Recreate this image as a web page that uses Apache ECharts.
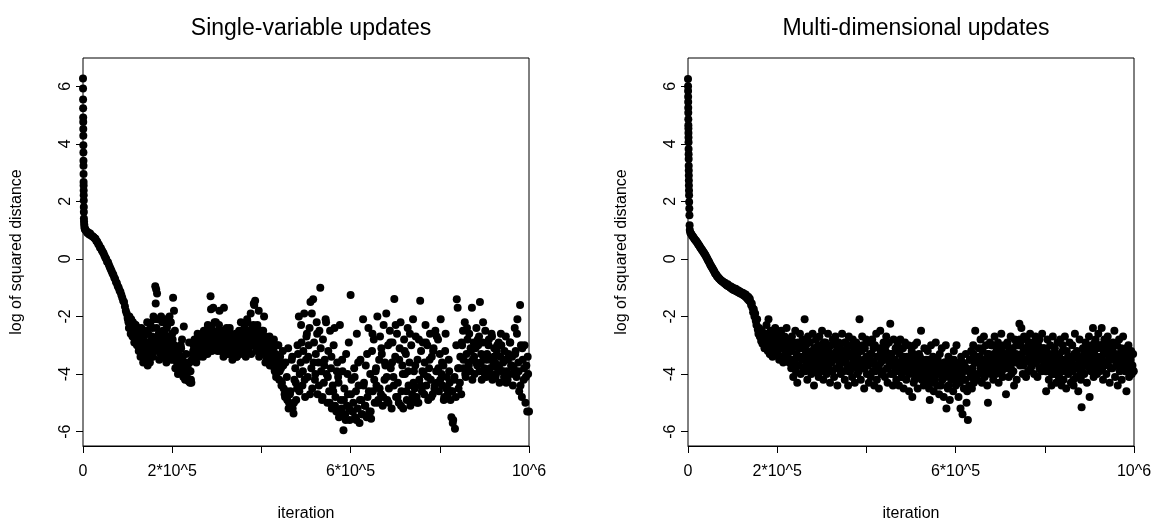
<!DOCTYPE html>
<html><head><meta charset="utf-8">
<script src="https://cdn.jsdelivr.net/npm/echarts@6/dist/echarts.min.js"></script>
<style>html,body{margin:0;padding:0;background:#fff}#c{width:1163px;height:527px}</style>
</head><body><div id="c"></div>
<script>
// ---------- text / ticks ----------
const panelTitles = ['Single-variable updates', 'Multi-dimensional updates'];
const xAxisTitle = 'iteration';
const yAxisTitle = 'log of squared distance';
const xTickValues = [0, 200000, 400000, 600000, 800000, 1000000];
const xTickLabels = ['0', '2*10^5', '', '6*10^5', '', '10^6'];
const yTickValues = [-6, -4, -2, 0, 2, 4, 6];

// ---------- single-variable updates ----------
const singleHeadIter = [0, 100, 200, 300, 400, 500, 600, 700, 800, 900, 1000, 1100, 1200, 1300, 1400, 1500, 1600, 1700, 1800, 1900, 2000, 2300, 2700, 3200, 3800, 4500];
const singleHeadLog = [6.27, 5.92, 5.54, 5.23, 4.91, 4.76, 4.51, 4.28, 3.95, 3.7, 3.41, 3.24, 2.95, 2.67, 2.55, 2.38, 2.21, 2.03, 1.8, 1.63, 1.4, 1.3, 1.2, 1.12, 1.06, 1.02];
const singleTailStart = 6000;
const singleTailStep = 2000;
const singleTailLog = [
 1.0,0.95,0.9,0.92,0.85,0.88,0.82,0.8,0.78,0.75,
 0.72,0.7,0.62,0.6,0.52,0.48,0.4,0.38,0.3,0.25,
 0.2,0.12,0.05,0.0,-0.1,-0.12,-0.2,-0.28,-0.35,-0.42,
 -0.5,-0.55,-0.65,-0.7,-0.8,-0.85,-0.95,-1.0,-1.1,-1.15,
 -1.25,-1.35,-1.45,-1.5,-1.65,-1.8,-1.9,-2.05,-2.2,-2.0,
 -2.3,-2.1,-2.4,-2.2,-2.6,-2.5,-2.3,-2.8,-2.6,-2.4,
 -2.9,-3.1,-2.7,-3.3,-2.5,-2.9,-3.2,-3.5,-3.0,-2.2,
 -2.6,-3.4,-3.6,-3.2,-2.8,-2.4,-2.0,-3.0,-0.95,-1.05,
 -1.2,-2.1,-2.6,-3.0,-3.3,-2.7,-2.2,-2.5,-2.9,-3.4,
 -2.1,-2.4,-3.1,-2.8,-2.0,-3.3,-3.5,-2.6,-1.35,-1.8,
 -2.5,-3.2,-3.5,-3.7,-3.4,-3.9,-3.6,-3.1,-2.8,-3.8,
 -2.35,-4.0,-4.1,-3.6,-4.2,-3.9,-2.9,-4.3,-4.2,-3.5,
 -3.3,-3.0,-2.8,-3.2,-3.6,-3.1,-2.7,-3.4,-2.9,-3.0,
 -3.3,-2.6,-2.9,-3.1,-2.5,-3.2,-2.7,-2.3,-3.0,-2.8,
 -1.3,-2.4,-2.9,-1.7,-2.6,-3.0,-2.2,-2.8,-3.2,-2.5,
 -1.8,-2.7,-3.1,-2.5,-2.9,-1.7,-2.6,-3.0,-2.4,-3.3,
 -2.8,-2.5,-3.1,-2.9,-3.3,-2.7,-3.0,-3.2,-2.6,-3.4,
 -3.1,-2.8,-2.5,-3.0,-2.2,-2.7,-3.2,-2.9,-2.4,-3.3,
 -2.6,-2.1,-2.9,-3.1,-2.5,-1.9,-2.8,-3.0,-2.3,-1.6,
 -1.45,-2.4,-2.7,-3.1,-1.8,-2.9,-3.3,-2.6,-3.0,-2.5,
 -2.0,-2.8,-3.2,-3.5,-2.9,-3.4,-2.7,-3.0,-3.6,-3.2,
 -3.5,-2.8,-3.9,-3.3,-4.0,-3.6,-3.0,-4.2,-3.4,-3.8,
 -4.3,-3.2,-4.5,-4.7,-3.6,-4.6,-4.9,-3.1,-5.0,-4.7,
 -5.1,-3.5,-5.2,-5.37,-4.2,-3.8,-4.9,-4.5,-3.3,-2.0,
 -4.0,-3.6,-2.9,-4.4,-3.2,-1.9,-4.8,-3.5,-2.6,-4.1,
 -3.0,-2.4,-1.5,-3.8,-4.5,-1.4,-2.9,-4.2,-3.3,-2.2,
 -4.7,-3.6,-2.5,-1.0,-3.9,-4.9,-2.8,-4.3,-3.5,-2.1,
 -4.0,-5.0,-3.2,-4.6,-2.5,-3.8,-5.2,-4.4,-3.0,-2.4,
 -4.8,-5.3,-3.6,-4.1,-5.5,-2.3,-4.9,-5.2,-3.9,-5.95,
 -4.5,-5.4,-3.3,-5.1,-4.7,-2.9,-5.6,-1.25,-4.2,-5.3,
 -5.0,-3.8,-5.5,-4.6,-2.6,-5.2,-4.4,-5.7,-3.5,-4.9,
 -5.4,-2.1,-4.3,-5.1,-3.7,-5.5,-4.8,-2.4,-5.3,-4.0,
 -5.55,-3.2,-4.6,-2.8,-5.0,-3.9,-4.4,-2.0,-4.9,-3.5,
 -2.7,-4.7,-3.3,-5.1,-2.3,-4.2,-3.7,-1.9,-4.9,-3.0,
 -4.5,-2.5,-3.8,-5.2,-2.9,-4.1,-1.39,-3.4,-4.8,-2.6,
 -4.3,-5.0,-3.1,-2.2,-4.6,-3.7,-5.2,-2.8,-4.0,-3.3,
 -4.9,-2.4,-4.4,-3.6,-5.1,-3.0,-4.7,-2.1,-3.9,-4.5,
 -2.7,-4.8,-3.5,-5.0,-4.2,-1.45,-3.2,-4.6,-2.9,-4.0,
 -3.6,-2.3,-4.4,-3.0,-4.9,-3.8,-2.6,-4.2,-3.4,-4.7,
 -3.1,-4.5,-2.5,-3.9,-4.3,-2.8,-4.6,-3.3,-2.1,-4.0,
 -4.4,-3.7,-4.8,-3.2,-4.5,-4.1,-4.7,-3.5,-4.3,-4.9,
 -5.5,-4.6,-5.6,-4.2,-5.9,-4.8,-1.4,-1.7,-4.5,-3.8,
 -3.4,-4.7,-3.0,-2.5,-3.8,-2.2,-4.1,-3.3,-2.8,-3.6,
 -2.6,-3.9,-3.2,-1.7,-3.5,-2.9,-4.0,-3.1,-2.4,-3.7,
 -3.0,-2.7,-1.5,-3.6,-4.2,-2.9,-3.4,-3.8,-2.5,-4.1,
 -3.3,-3.9,-2.8,-4.0,-3.5,-2.6,-4.2,-3.7,-3.1,-3.6,
 -4.0,-3.2,-3.8,-2.9,-4.3,-3.4,-3.0,-3.9,-3.6,-4.1,
 -3.5,-2.7,-3.9,-4.2,-3.3,-4.0,-2.9,-3.7,-3.4,-4.4,
 -3.8,-2.4,-3.2,-4.1,-2.1,-3.6,-4.6,-1.6,-3.0,-4.8,
 -3.5,-4.2,-3.0,-5.0,-3.7,-5.3,-4.0,-5.3
];
// extra logged points between the samples above, 101k..439k
const singleMidStart = 101000;
const singleMidStep = 2000;
const singleMidLog = [
 -2.1,-2.4,-2.2,-2.6,-2.35,-2.7,-2.5,-2.9,-2.3,-2.75,
 -3.0,-2.6,-3.2,-2.8,-3.4,-2.4,-3.1,-3.6,-2.7,-3.3,
 -2.5,-3.0,-3.7,-2.9,-3.5,-2.3,-3.1,-2.7,-3.4,-2.1,
 -2.9,-1.55,-2.4,-3.2,-2.8,-3.5,-2.6,-2.0,-3.1,-2.7,
 -3.3,-2.5,-2.9,-3.6,-2.3,-3.0,-2.7,-3.4,-2.2,-3.1,
 -2.8,-3.5,-3.0,-3.8,-3.3,-3.6,-4.0,-3.2,-3.7,-3.0,
 -3.9,-3.4,-4.1,-3.7,-4.2,-3.3,-4.0,-3.8,-4.25,-3.6,
 -3.9,-4.3,-3.5,-3.2,-3.0,-3.4,-2.9,-3.3,-2.6,-3.1,
 -2.8,-3.2,-2.7,-3.0,-3.4,-2.5,-2.9,-3.1,-2.6,-3.3,
 -2.4,-3.0,-2.7,-1.75,-3.2,-2.5,-2.9,-2.2,-3.1,-2.8,
 -2.6,-3.0,-2.3,-2.8,-3.2,-2.5,-2.9,-3.4,-2.7,-3.1,
 -2.9,-3.3,-2.6,-3.0,-2.4,-3.2,-2.8,-3.5,-3.0,-2.7,
 -3.2,-2.9,-3.4,-2.6,-3.1,-2.8,-3.3,-2.5,-3.0,-2.7,
 -3.0,-2.8,-3.4,-2.5,-2.2,-3.2,-2.7,-2.9,-3.3,-2.4,
 -2.8,-1.55,-3.0,-2.6,-3.2,-2.3,-2.9,-3.4,-2.7,-3.1,
 -2.5,-3.0,-3.3,-2.7,-3.6,-3.1,-2.8,-3.4,-3.0,-3.7,
 -3.3,-2.9,-3.6,-3.1,-3.8,-3.4,-4.1,-3.0,-3.7,-3.5
];
// extra logged points, 441k..997k
const singleLateStart = 441000;
const singleLateStep = 4000;
const singleLateLog = [
 -3.9,-4.4,-3.7,-4.8,-4.1,-5.2,-4.6,-3.4,-5.0,-4.3,
 -3.0,-4.6,-2.3,-3.9,-4.2,-2.7,-3.4,-4.7,-1.9,-3.6,
 -4.0,-2.6,-4.4,-3.1,-4.8,-3.7,-2.2,-4.1,-5.0,-3.4,
 -4.6,-5.1,-3.9,-4.3,-5.4,-3.5,-4.9,-5.6,-4.0,-5.2,
 -4.7,-5.3,-4.1,-5.6,-3.6,-4.9,-5.4,-4.4,-5.1,-3.3,
 -4.6,-5.3,-2.6,-4.2,-3.8,-5.0,-4.5,-3.1,-4.8,-3.6,
 -4.1,-5.0,-2.9,-3.6,-4.4,-2.3,-4.8,-3.5,-5.1,-4.0,
 -3.2,-4.6,-3.9,-2.6,-4.9,-4.3,-3.7,-5.0,-2.8,-4.4,
 -3.9,-4.7,-2.9,-4.1,-3.5,-4.8,-3.2,-4.4,-2.7,-3.8,
 -4.2,-3.6,-4.9,-2.6,-4.5,-3.9,-4.6,-5.7,-4.1,-3.0,
 -3.8,-4.3,-2.9,-3.5,-4.0,-2.4,-3.7,-3.1,-4.2,-3.4,
 -3.6,-2.8,-3.9,-3.3,-2.2,-4.0,-3.5,-3.0,-3.8,-2.7,
 -3.4,-4.1,-3.0,-3.7,-2.6,-3.9,-3.2,-4.3,-3.5,-2.9,
 -3.7,-4.0,-3.3,-2.6,-3.9,-4.4,-3.1,-3.8,-4.1,-3.4
];

// ---------- multi-dimensional updates ----------
const multiHeadIter = [0, 100, 200, 300, 400, 500, 600, 700, 800, 900, 1000, 1100, 1200, 1300, 1400, 1500, 1600, 1700, 1800, 1900, 2000, 2200, 2400, 2600, 2900, 3200, 3600, 4000];
const multiHeadLog = [6.25, 6.0, 5.83, 5.63, 5.45, 5.25, 5.08, 4.85, 4.64, 4.53, 4.37, 4.22, 4.05, 3.82, 3.64, 3.47, 3.24, 3.07, 2.9, 2.72, 2.55, 2.38, 2.21, 1.98, 1.75, 1.52, 1.17, 1.0];
const multiTailStart = 5000;
const multiTailStep = 1500;
const multiTailLog = [
 0.92,0.88,0.85,0.8,0.78,0.74,0.7,0.67,0.64,0.62,0.58,
 0.55,0.5,0.48,0.44,0.4,0.37,0.33,0.3,0.27,0.22,0.2,
 0.15,0.12,0.07,0.03,-0.02,-0.06,-0.1,-0.15,-0.2,-0.24,-0.28,
 -0.32,-0.36,-0.4,-0.44,-0.5,-0.52,-0.55,-0.6,-0.62,-0.65,-0.68,
 -0.7,-0.72,-0.75,-0.77,-0.78,-0.8,-0.82,-0.85,-0.83,-0.88,-0.9,
 -0.92,-0.88,-0.95,-0.93,-0.97,-1.0,-0.96,-1.02,-1.05,-1.0,-1.08,
 -1.06,-1.1,-1.04,-1.12,-1.08,-1.15,-1.1,-1.18,-1.13,-1.2,-1.16,
 -1.22,-1.18,-1.25,-1.2,-1.28,-1.3,-1.24,-1.35,-1.3,-1.4,-1.32,
 -1.45,-1.38,-1.5,-1.6,-1.55,-1.7,-1.85,-1.75,-2.0,-1.9,-2.15,
 -2.3,-2.1,-2.45,-2.6,-2.4,-2.7,-2.55,-2.85,-2.5,-2.95,-2.65,
 -2.8,-3.1,-2.6,-3.0,-2.3,-2.9,-3.2,-2.1,-2.7,-3.3,-2.5,-3.0,-2.8,-3.4,-2.6,-3.1,-2.9,-2.4,-3.2,-2.7,
 -3.0,-3.3,-2.6,-3.5,-2.9,-3.1,-2.5,-3.4,-2.8,-3.6,-3.0,-2.7,-3.2,-3.5,-2.4,-3.1,-3.3,-2.8,-3.6,-2.9,
 -3.2,-3.8,-2.7,-3.5,-4.1,-3.0,-3.6,-2.5,-3.9,-3.3,-4.3,-2.9,-3.4,-3.7,-2.6,-4.0,-3.1,-3.5,-2.8,-3.8,
 -3.4,-2.1,-3.9,-3.0,-3.6,-4.2,-2.7,-3.3,-3.8,-2.9,-3.5,-4.0,-3.2,-2.6,-3.7,-4.4,-3.1,-3.4,-2.8,-3.9,
 -3.5,-3.0,-4.1,-2.7,-3.6,-3.3,-3.9,-2.5,-3.4,-4.2,-3.1,-3.7,-2.9,-3.5,-4.0,-3.2,-2.6,-3.8,-3.4,-4.3,
 -3.0,-3.6,-3.9,-2.8,-3.3,-4.1,-3.5,-2.7,-3.8,-3.2,-4.4,-3.4,-2.9,-3.7,-3.1,-4.0,-3.6,-2.6,-3.5,-3.9,
 -3.3,-4.2,-2.9,-3.6,-3.1,-3.8,-4.4,-2.7,-3.4,-3.9,-3.0,-3.7,-4.1,-2.8,-3.5,-3.2,-4.3,-3.6,-2.9,-3.8,
 -3.4,-3.0,-3.9,-2.1,-3.6,-4.2,-3.2,-2.7,-3.8,-3.5,-4.5,-3.1,-3.7,-2.8,-4.0,-3.4,-3.6,-4.3,-2.9,-3.5,
 -4.1,-3.3,-2.8,-3.9,-3.6,-4.4,-3.0,-3.7,-2.6,-4.2,-3.4,-3.8,-4.5,-3.1,-2.5,-3.6,-4.0,-3.3,-3.9,-2.9,
 -3.5,-4.1,-3.2,-2.7,-3.8,-4.3,-3.4,-2.9,-3.6,-2.25,-4.0,-3.3,-3.7,-4.4,-2.8,-3.5,-3.9,-3.1,-4.2,-3.6,
 -3.0,-3.8,-4.4,-3.3,-2.8,-3.7,-4.1,-3.5,-3.1,-4.5,-3.6,-2.9,-3.9,-4.2,-3.4,-3.7,-3.0,-4.6,-3.5,-3.8,
 -3.6,-3.2,-4.8,-3.9,-4.3,-3.0,-3.7,-4.1,-3.4,-2.9,-4.5,-3.8,-3.3,-4.0,-3.6,-2.5,-4.2,-3.5,-3.9,-4.4,
 -3.1,-3.7,-4.3,-3.5,-4.0,-3.2,-3.8,-4.5,-4.9,-3.6,-3.0,-4.1,-3.9,-3.4,-4.6,-3.7,-4.2,-2.9,-3.8,-4.4,
 -3.5,-4.0,-4.7,-3.3,-3.9,-4.4,-3.1,-4.2,-3.7,-4.8,-3.6,-4.1,-3.0,-5.2,-3.8,-4.5,-3.4,-4.0,-4.9,-3.6,
 -4.2,-3.5,-3.9,-4.6,-3.2,-4.0,-3.7,-4.4,-3.0,-3.8,-4.1,-4.8,-3.6,-4.3,-5.2,-3.4,-4.0,-5.4,-3.9,-4.5,
 -3.7,-4.2,-3.3,-5.0,-4.6,-5.6,-3.9,-4.4,-3.5,-4.1,-3.2,-4.5,-3.8,-3.0,-4.3,-3.6,-2.5,-4.0,-3.4,-4.2,
 -3.6,-3.1,-4.0,-3.4,-2.8,-3.8,-4.3,-3.2,-3.7,-2.7,-4.1,-3.5,-3.0,-3.9,-4.4,-5.0,-3.3,-3.6,-2.9,-4.0,
 -3.5,-3.0,-3.8,-4.2,-3.3,-2.7,-3.6,-4.0,-3.1,-3.7,-2.9,-4.3,-3.4,-3.8,-3.2,-2.6,-3.9,-4.1,-3.5,-3.0,
 -3.6,-3.3,-4.7,-3.8,-2.9,-3.5,-4.1,-3.2,-3.7,-2.7,-4.0,-3.4,-3.1,-3.9,-4.4,-2.8,-3.6,-3.3,-4.2,-3.0,
 -3.5,-3.0,-2.25,-3.7,-2.9,-2.4,-3.4,-4.0,-3.1,-2.7,-3.6,-3.2,-4.1,-2.8,-3.5,-3.9,-3.0,-3.3,-2.6,-3.8,
 -3.2,-3.7,-2.9,-3.4,-4.0,-3.1,-2.7,-3.6,-3.3,-4.1,-3.0,-3.5,-2.8,-3.8,-3.2,-3.9,-2.6,-3.4,-3.7,-3.1,
 -3.5,-3.9,-4.6,-3.2,-2.8,-3.7,-4.2,-3.4,-3.0,-3.8,-4.4,-3.3,-2.7,-3.6,-4.0,-3.1,-3.9,-4.3,-3.5,-2.9,
 -3.7,-4.1,-3.3,-2.8,-3.9,-4.4,-3.5,-3.0,-4.2,-3.6,-2.7,-3.8,-4.5,-3.2,-3.6,-4.0,-3.4,-2.9,-3.8,-4.3,
 -3.5,-3.0,-3.9,-4.4,-3.3,-2.6,-3.7,-4.1,-3.2,-3.8,-4.6,-3.4,-2.8,-3.6,-4.2,-5.15,-3.9,-3.1,-3.5,-4.0,
 -3.3,-2.9,-3.7,-4.3,-3.1,-3.6,-2.7,-4.8,-3.4,-3.9,-3.0,-3.5,-2.4,-4.1,-3.2,-3.8,-2.8,-3.4,-4.0,-3.1,
 -2.6,-3.5,-3.9,-3.0,-3.4,-2.4,-3.8,-4.2,-3.2,-2.8,-3.6,-3.1,-4.0,-3.3,-2.7,-3.7,-3.5,-4.3,-3.0,-3.4,
 -3.2,-3.8,-2.9,-3.5,-2.5,-4.1,-3.3,-3.7,-3.0,-4.4,-3.4,-2.8,-3.9,-3.6,-3.1,-4.2,-3.5,-2.7,-3.8,-3.3,
 -3.6,-3.1,-4.6,-3.4,-3.9,-3.0,-4.1,-3.5,-3.8,-3.2,-4.0,-3.7,-3.3,-3.9
];
// extra logged points in the band, 172k..996k
const multiBandStart = 172000;
const multiBandStep = 4000;
const multiBandLog = [
 -2.7,-3.1,-2.9,-3.3,-2.6,-3.0,-3.2,-2.8,-3.4,-3.0,
 -3.1,-2.8,-3.4,-3.0,-3.6,-3.2,-2.9,-3.5,-3.7,-3.1,
 -3.4,-3.0,-3.8,-3.2,-3.6,-2.9,-3.5,-3.9,-3.1,-3.3,
 -3.7,-3.2,-3.5,-2.9,-3.8,-3.4,-3.1,-3.6,-3.9,-3.3,
 -3.0,-3.5,-3.8,-3.2,-3.6,-2.9,-3.4,-3.9,-3.3,-3.7,
 -3.1,-3.5,-4.0,-3.2,-3.6,-3.0,-3.8,-3.4,-3.7,-3.3,
 -3.6,-3.1,-3.9,-3.4,-3.7,-3.2,-4.0,-3.5,-3.0,-3.8,
 -3.3,-3.7,-4.0,-3.5,-3.2,-3.9,-3.6,-4.1,-3.4,-3.8,
 -3.5,-4.0,-3.7,-3.3,-4.2,-3.6,-3.9,-3.4,-4.1,-3.7,
 -3.8,-4.2,-3.5,-3.9,-4.3,-3.6,-4.0,-3.7,-4.4,-3.9,
 -4.1,-3.6,-4.0,-4.4,-3.8,-4.2,-3.5,-3.9,-4.3,-3.7,
 -4.0,-3.6,-4.2,-3.8,-4.5,-3.5,-3.9,-3.3,-4.1,-3.6,
 -3.4,-3.8,-3.1,-3.6,-3.9,-3.3,-3.7,-3.0,-3.5,-3.8,
 -3.2,-3.6,-3.9,-3.1,-3.4,-3.7,-3.0,-3.5,-3.8,-3.3,
 -3.4,-3.0,-3.6,-2.8,-3.3,-3.7,-3.1,-3.5,-2.9,-3.6,
 -3.3,-3.0,-3.6,-3.2,-3.8,-3.4,-3.1,-3.7,-3.9,-3.5,
 -3.6,-4.0,-3.3,-3.8,-3.5,-4.1,-3.7,-3.2,-3.9,-3.6,
 -3.4,-3.9,-3.6,-4.2,-3.3,-3.8,-3.5,-4.0,-3.7,-3.2,
 -3.5,-3.1,-3.8,-3.3,-3.6,-2.9,-3.4,-3.7,-3.0,-3.5,
 -3.2,-3.6,-2.9,-3.4,-3.8,-3.1,-3.5,-3.0,-3.7,-3.3,
 -3.6,-3.2,-3.9,-3.4,-3.7,-3.5,-3.8
];

// ---------- build ----------
function pushRun(pts, start, step, vals) {
  vals.forEach((v, i) => pts.push([start + i * step, v]));
  return pts;
}
const singlePoints = singleHeadIter.map((it, i) => [it, singleHeadLog[i]]);
pushRun(singlePoints, singleTailStart, singleTailStep, singleTailLog);
pushRun(singlePoints, singleMidStart, singleMidStep, singleMidLog);
pushRun(singlePoints, singleLateStart, singleLateStep, singleLateLog);
const multiPoints = multiHeadIter.map((it, i) => [it, multiHeadLog[i]]);
pushRun(multiPoints, multiTailStart, multiTailStep, multiTailLog);
pushRun(multiPoints, multiBandStart, multiBandStep, multiBandLog);

const FONT = "'Liberation Sans', Arial, Helvetica, sans-serif";
const grids = [
  { left: 83, top: 58, width: 446, height: 391 },
  { left: 688, top: 58, width: 446, height: 391 }
];
function xAxisFor(gi) {
  return {
    type: 'value', gridIndex: gi, min: 0, max: 1000000, interval: 200000,
    name: xAxisTitle, nameLocation: 'middle', nameGap: 60,
    nameTextStyle: { fontFamily: FONT, fontSize: 16, color: '#000' },
    axisLine: { show: true, onZero: false, lineStyle: { color: '#000', width: 1 } },
    axisTick: { show: true, length: 7, lineStyle: { color: '#000', width: 1 } },
    axisLabel: {
      show: true, margin: 18, fontFamily: FONT, fontSize: 16, color: '#000',
      showMinLabel: true, showMaxLabel: true,
      formatter: v => { const k = xTickValues.indexOf(v); return k >= 0 ? xTickLabels[k] : ''; }
    },
    splitLine: { show: false }
  };
}
function yAxisFor(gi) {
  return {
    type: 'value', gridIndex: gi, min: -6.5, max: 6.98,
    name: yAxisTitle, nameLocation: 'middle', nameGap: 58,
    nameTextStyle: { fontFamily: FONT, fontSize: 16, color: '#000' },
    axisLine: { show: false, onZero: false },
    axisTick: { show: true, length: 7, customValues: yTickValues, lineStyle: { color: '#000', width: 1 } },
    axisLabel: { show: true, rotate: 90, margin: 9, customValues: yTickValues, fontFamily: FONT, fontSize: 16, color: '#000' },
    splitLine: { show: false }
  };
}
const option = {
  animation: false,
  backgroundColor: '#fff',
  title: [
    { text: panelTitles[0], left: 306, top: 12, textAlign: 'center', textStyle: { fontFamily: FONT, fontSize: 23, fontWeight: 'normal', color: '#000' } },
    { text: panelTitles[1], left: 911, top: 12, textAlign: 'center', textStyle: { fontFamily: FONT, fontSize: 23, fontWeight: 'normal', color: '#000' } }
  ],
  grid: grids.map(g => Object.assign({ show: true, borderColor: '#000', borderWidth: 1, backgroundColor: 'transparent', containLabel: false }, g)),
  xAxis: [xAxisFor(0), xAxisFor(1)],
  yAxis: [yAxisFor(0), yAxisFor(1)],
  series: [
    { type: 'scatter', xAxisIndex: 0, yAxisIndex: 0, data: singlePoints, symbol: 'circle', symbolSize: 8, itemStyle: { color: '#000', opacity: 1 }, silent: true },
    { type: 'scatter', xAxisIndex: 1, yAxisIndex: 1, data: multiPoints, symbol: 'circle', symbolSize: 8, itemStyle: { color: '#000', opacity: 1 }, silent: true }
  ]
};
const chart = echarts.init(document.getElementById('c'), null, { renderer: 'canvas' });
chart.setOption(option);
</script>
</body></html>
